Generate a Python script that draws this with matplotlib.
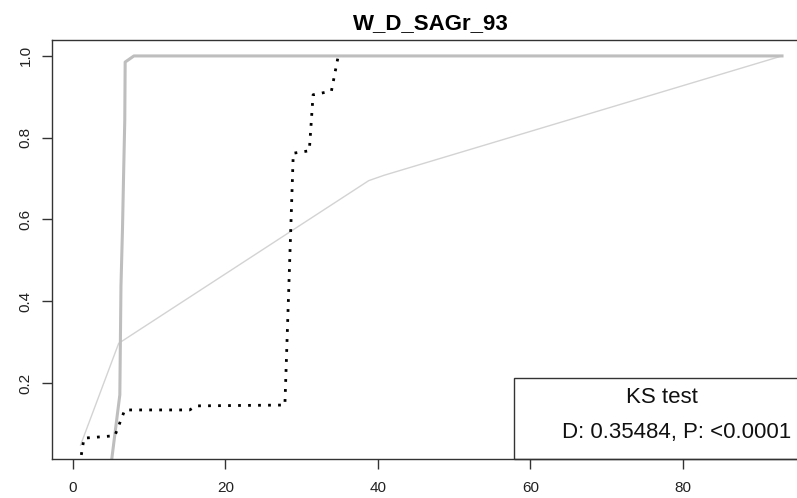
import matplotlib
matplotlib.use("Agg")
import matplotlib.pyplot as plt
from matplotlib.patches import Rectangle

plt.rcParams['font.family'] = ['Liberation Sans', 'DejaVu Sans']

title = "W_D_SAGr_93"

# thick grey curve
grey_x = [5.0, 6.15, 6.3, 6.5, 6.65, 6.8, 6.85, 8.0, 93.0]
grey_y = [0.0, 0.171, 0.437, 0.577, 0.714, 0.843, 0.985, 1.0, 1.0]

# thin light grey curve
light_x = [1.0, 6.0, 38.8, 40.8, 93.0]
light_y = [0.048, 0.297, 0.695, 0.708, 1.0]

# dotted black curve
dot_x = [1.1, 1.45, 5.5, 6.8, 15.3, 16.2, 27.8, 28.9, 31.0, 31.5, 33.9, 34.8]
dot_y = [0.024, 0.065, 0.071, 0.134, 0.134, 0.144, 0.146, 0.762, 0.768, 0.905, 0.914, 1.0]

xticks = [0, 20, 40, 60, 80]
yticks = [0.2, 0.4, 0.6, 0.8, 1.0]
ks_title = "KS test"
ks_text = "D: 0.35484, P: <0.0001"

fig = plt.figure(figsize=(7.97, 4.98), dpi=100)
ax = fig.add_axes([0.0652, 0.0783, 0.951, 0.8414])

ax.plot(light_x, light_y, color='#d3d3d3', lw=1.0)
ax.plot(grey_x, grey_y, color='#bebebe', lw=2.2)
ax.plot(dot_x, dot_y, color='black', lw=2.0, linestyle=(0, (1, 2.6)))

ax.set_xlim(-2.75, 96.66)
ax.set_ylim(0.014, 1.039)
ax.set_xticks(xticks)
ax.set_xticklabels([str(t) for t in xticks])
ax.set_yticks(yticks)
ax.set_yticklabels(["%.1f" % t for t in yticks], rotation=90, va='center')
ax.tick_params(axis='both', labelsize=11, length=7, width=1, color='#333333',
               labelcolor='#222222')
ax.tick_params(axis='x', pad=9)
ax.tick_params(axis='y', pad=7)
for s in ax.spines.values():
    s.set_color('#333333')
    s.set_linewidth(1.0)

ax.set_title(title, fontsize=16, fontweight='bold', pad=8)

# legend box (bottom right)
ax.add_patch(Rectangle((57.8, 0.014), 50, 0.198, fill=False, edgecolor='#333333',
                       lw=1.0, clip_on=False))
ax.text(77.2, 0.165, ks_title, fontsize=16, ha='center', va='center', color='#111111')
ax.text(64.1, 0.078, ks_text, fontsize=16, ha='left', va='center', color='#111111')

fig.savefig("out.png", dpi=100)
